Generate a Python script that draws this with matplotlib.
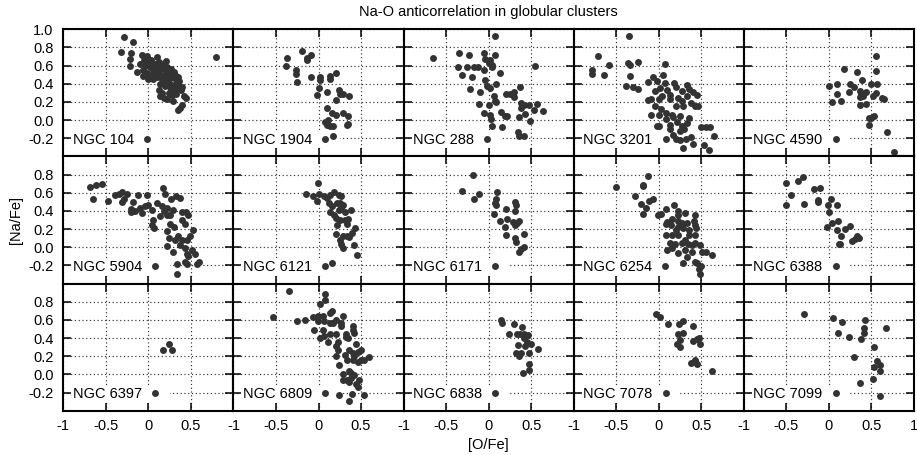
import numpy as np
import matplotlib
matplotlib.use('Agg')
import matplotlib.pyplot as plt

plt.rcParams['font.family'] = 'Liberation Sans'
plt.rcParams['font.size'] = 10.5

# [O/Fe], [Na/Fe] pairs, one list per cluster
ngc104 = [(-0.29, 0.92), (-0.18, 0.86), (-0.32, 0.75), (-0.21, 0.74), (-0.22, 0.67), (-0.22, 0.60), (0.80, 0.69),
          (-0.13, 0.53), (-0.10, 0.62), (-0.08, 0.72), (-0.05, 0.66), (-0.02, 0.71), (0.00, 0.63), (0.02, 0.58),
          (-0.06, 0.55), (-0.06, 0.49), (-0.02, 0.52), (0.03, 0.50), (0.05, 0.55), (0.07, 0.60), (0.10, 0.69),
          (0.12, 0.64), (0.08, 0.52), (0.10, 0.47), (0.12, 0.55), (0.14, 0.60), (0.15, 0.50), (0.16, 0.45),
          (0.18, 0.56), (0.20, 0.50), (0.21, 0.65), (0.22, 0.58), (0.24, 0.52), (0.25, 0.46), (0.18, 0.42),
          (0.20, 0.38), (0.14, 0.40), (0.13, 0.33), (0.16, 0.30), (0.14, 0.26), (0.22, 0.42), (0.26, 0.40),
          (0.28, 0.48), (0.30, 0.53), (0.31, 0.50), (0.27, 0.34), (0.30, 0.38), (0.32, 0.44), (0.33, 0.40),
          (0.35, 0.48), (0.36, 0.43), (0.37, 0.37), (0.38, 0.33), (0.40, 0.37), (0.42, 0.26), (0.44, 0.24),
          (0.39, 0.17), (0.35, 0.11), (0.37, 0.13), (0.22, 0.23), (0.25, 0.36), (0.29, 0.21), (0.18, 0.24),
          (0.28, 0.28), (0.33, 0.29), (0.24, 0.30), (0.05, 0.45), (0.00, 0.45), (-0.04, 0.60), (0.03, 0.66),
          (0.08, 0.62), (0.17, 0.62), (0.19, 0.47), (0.23, 0.55), (0.27, 0.56), (0.11, 0.58), (0.06, 0.48),
          (0.34, 0.34), (0.31, 0.31)]
ngc1904 = [(-0.37, 0.68), (-0.38, 0.60), (-0.19, 0.76), (-0.09, 0.72), (-0.13, 0.66), (-0.14, 0.68),
           (-0.26, 0.55), (-0.27, 0.51), (-0.25, 0.42), (-0.09, 0.47), (0.02, 0.47), (0.02, 0.44), (0.13, 0.49),
           (0.14, 0.45), (0.21, 0.52), (0.01, 0.35), (0.10, 0.31), (-0.02, 0.28), (0.24, 0.33), (0.25, 0.29),
           (0.29, 0.29), (0.36, 0.27), (0.21, 0.22), (0.10, 0.13), (0.16, 0.08), (0.21, 0.06), (0.29, 0.08),
           (0.35, 0.04), (0.33, -0.05), (0.35, -0.04), (0.08, -0.02), (0.10, -0.05), (0.13, -0.07),
           (0.17, -0.07), (0.11, 0.00), (0.17, -0.18)]
ngc288 = [(0.07, 0.93), (-0.66, 0.68), (-0.35, 0.74), (-0.23, 0.72), (-0.05, 0.74), (0.07, 0.72), (-0.36, 0.59),
          (-0.26, 0.59), (-0.31, 0.50), (-0.17, 0.58), (-0.12, 0.58), (-0.19, 0.47), (-0.05, 0.55), (-0.04, 0.67),
          (0.00, 0.63), (0.02, 0.66), (0.04, 0.58), (0.13, 0.52), (0.04, 0.61), (-0.04, 0.44), (-0.02, 0.38),
          (0.02, 0.35), (0.09, 0.40), (-0.22, 0.34), (-0.10, 0.31), (-0.11, 0.18), (0.00, 0.17), (0.06, 0.26),
          (0.07, 0.21), (0.09, 0.20), (-0.05, 0.08), (0.02, 0.06), (0.03, 0.01), (0.04, -0.07), (0.16, -0.08),
          (0.15, 0.09), (0.19, 0.04), (0.22, 0.04), (0.20, 0.29), (0.25, 0.29), (0.30, 0.31), (0.30, 0.25),
          (0.37, 0.37), (0.38, 0.19), (0.42, 0.17), (0.38, 0.13), (0.47, 0.17), (0.43, 0.07), (0.36, 0.03),
          (0.49, -0.01), (0.53, 0.11), (0.57, 0.18), (0.64, 0.10), (0.55, 0.60), (0.35, -0.13), (0.36, -0.18),
          (0.41, -0.18)]
ngc3201 = [(-0.35, 0.93), (-0.72, 0.71), (-0.58, 0.61), (-0.78, 0.55), (-0.78, 0.51), (-0.64, 0.50),
           (-0.36, 0.63), (-0.34, 0.61), (-0.24, 0.64), (-0.34, 0.49), (-0.38, 0.38), (-0.30, 0.37),
           (-0.24, 0.34), (0.07, 0.62), (-0.07, 0.47), (-0.13, 0.42), (-0.02, 0.43), (0.05, 0.50), (0.07, 0.41),
           (0.18, 0.41), (0.20, 0.37), (0.33, 0.39), (0.40, 0.31), (0.45, 0.28), (-0.04, 0.32), (0.01, 0.35),
           (0.10, 0.33), (0.04, 0.26), (0.00, 0.23), (-0.13, 0.22), (-0.09, 0.23), (0.13, 0.23), (0.23, 0.24),
           (0.27, 0.21), (0.33, 0.26), (0.38, 0.19), (0.46, 0.15), (0.42, 0.16), (0.20, 0.15), (0.29, 0.15),
           (-0.04, 0.15), (0.03, 0.12), (-0.09, 0.06), (0.00, 0.06), (0.09, 0.08), (0.15, 0.06), (0.17, 0.03),
           (0.21, -0.02), (0.09, 0.01), (-0.02, -0.06), (0.00, -0.07), (0.13, -0.05), (0.13, -0.10),
           (0.27, -0.07), (0.30, -0.10), (0.36, 0.02), (0.25, -0.12), (0.17, -0.16), (0.20, -0.21),
           (0.25, -0.22), (0.29, -0.31), (0.32, -0.21), (0.38, -0.19), (0.40, -0.26), (0.50, -0.08),
           (0.56, -0.08), (0.60, -0.08), (0.65, -0.18), (0.53, -0.27), (0.59, -0.33), (0.36, 0.34),
           (0.27, 0.32), (0.13, 0.28), (0.25, 0.04), (0.33, -0.03)]
ngc4590 = [(0.55, 0.71), (0.55, 0.54), (0.18, 0.56), (0.33, 0.53), (0.39, 0.44), (0.00, 0.38), (0.10, 0.40),
           (0.25, 0.40), (0.30, 0.37), (0.49, 0.40), (0.57, 0.40), (0.24, 0.31), (0.09, 0.29), (0.04, 0.20),
           (0.14, 0.21), (0.36, 0.32), (0.38, 0.29), (0.36, 0.25), (0.40, 0.26), (0.44, 0.31), (0.55, 0.30),
           (0.52, 0.26), (0.62, 0.24), (0.65, 0.23), (0.36, 0.17), (0.43, 0.18), (0.47, 0.02), (0.50, 0.02),
           (0.53, 0.04), (0.47, -0.05), (0.68, -0.13), (0.76, -0.35)]
ngc5904 = [(-0.69, 0.66), (-0.61, 0.68), (-0.54, 0.70), (-0.65, 0.53), (-0.47, 0.51), (-0.39, 0.57),
           (-0.35, 0.59), (-0.31, 0.61), (-0.25, 0.59), (-0.31, 0.50), (-0.29, 0.53), (-0.18, 0.50),
           (-0.20, 0.42), (-0.16, 0.40), (-0.20, 0.39), (-0.10, 0.43), (-0.12, 0.57), (-0.02, 0.58),
           (-0.07, 0.38), (0.00, 0.47), (0.04, 0.41), (0.06, 0.30), (0.04, 0.25), (0.07, 0.21), (-0.04, 0.45),
           (0.10, 0.49), (0.17, 0.65), (0.20, 0.59), (0.16, 0.45), (0.18, 0.40), (0.22, 0.43), (0.22, 0.36),
           (0.14, 0.34), (0.27, 0.53), (0.32, 0.56), (0.37, 0.54), (0.29, 0.41), (0.25, 0.36), (0.22, 0.18),
           (0.30, 0.22), (0.39, 0.39), (0.44, 0.39), (0.39, 0.30), (0.43, 0.26), (0.35, 0.12), (0.24, 0.10),
           (0.22, 0.01), (0.29, -0.05), (0.37, 0.03), (0.45, 0.08), (0.49, 0.12), (0.43, -0.01), (0.45, -0.07),
           (0.51, -0.03), (0.55, -0.07), (0.47, -0.10), (0.43, -0.16), (0.45, -0.19), (0.34, -0.18),
           (0.34, -0.29), (0.59, -0.16), (0.57, -0.18), (0.53, 0.19), (0.47, 0.36), (0.25, 0.26), (0.31, 0.08),
           (0.39, 0.08)]
ngc6121 = [(-0.01, 0.71), (-0.15, 0.59), (-0.07, 0.56), (-0.02, 0.51), (0.01, 0.59), (0.06, 0.56), (0.10, 0.54),
           (0.14, 0.58), (0.18, 0.61), (0.24, 0.58), (0.27, 0.56), (0.12, 0.49), (0.16, 0.45), (0.22, 0.49),
           (0.25, 0.49), (0.29, 0.47), (0.14, 0.39), (0.18, 0.36), (0.24, 0.41), (0.27, 0.43), (0.31, 0.39),
           (0.38, 0.41), (0.20, 0.32), (0.25, 0.30), (0.31, 0.30), (0.35, 0.31), (0.33, 0.26), (0.22, 0.25),
           (0.43, 0.21), (0.39, 0.16), (0.21, 0.15), (0.29, 0.12), (0.33, 0.12), (0.36, 0.11), (0.25, 0.08),
           (0.27, 0.04), (0.29, -0.01), (0.42, 0.03), (0.45, -0.08), (0.16, -0.17)]
ngc6171 = [(-0.18, 0.80), (-0.31, 0.62), (-0.17, 0.53), (-0.11, 0.59), (0.10, 0.61), (0.09, 0.53), (0.07, 0.49),
           (0.09, 0.46), (0.06, 0.37), (0.20, 0.42), (0.31, 0.50), (0.32, 0.47), (0.31, 0.40), (0.13, 0.29),
           (0.22, 0.31), (0.29, 0.28), (0.31, 0.25), (0.36, 0.29), (0.33, 0.27), (0.19, 0.22), (0.20, 0.14),
           (0.31, 0.10), (0.32, 0.06), (0.42, 0.15), (0.41, 0.00), (0.38, -0.02), (0.36, -0.05)]
ngc6254 = [(-0.50, 0.66), (-0.13, 0.78), (-0.19, 0.69), (-0.18, 0.67), (-0.28, 0.56), (-0.21, 0.48),
           (-0.11, 0.51), (-0.07, 0.53), (-0.15, 0.43), (-0.19, 0.37), (-0.01, 0.36), (0.03, 0.37), (0.08, 0.42),
           (0.18, 0.46), (0.22, 0.40), (0.23, 0.35), (0.31, 0.38), (0.42, 0.35), (0.41, 0.29), (0.10, 0.28),
           (0.08, 0.26), (0.14, 0.24), (0.23, 0.29), (0.27, 0.27), (0.33, 0.27), (0.42, 0.24), (0.44, 0.21),
           (0.23, 0.22), (0.29, 0.21), (0.20, 0.19), (0.16, 0.14), (0.08, 0.13), (0.23, 0.13), (0.36, 0.13),
           (0.43, 0.13), (0.31, 0.08), (0.27, 0.05), (0.19, 0.04), (0.34, 0.04), (0.39, 0.03), (0.43, 0.05),
           (0.49, 0.03), (0.10, -0.03), (0.22, -0.06), (0.31, -0.03), (0.39, -0.05), (0.51, -0.05),
           (0.56, -0.05), (0.63, -0.08), (0.33, -0.11), (0.29, -0.17), (0.42, -0.16), (0.45, -0.17),
           (0.50, -0.21), (0.47, -0.24), (0.49, -0.30), (0.16, -0.01), (0.13, 0.05), (0.36, 0.19), (0.16, 0.31)]
ngc6388 = [(-0.51, 0.71), (-0.36, 0.73), (-0.31, 0.77), (-0.45, 0.58), (-0.50, 0.46), (-0.29, 0.48),
           (-0.18, 0.64), (-0.11, 0.65), (-0.13, 0.52), (-0.13, 0.50), (-0.01, 0.46), (0.02, 0.53), (0.09, 0.46),
           (0.00, 0.39), (0.04, 0.27), (0.11, 0.29), (-0.02, 0.22), (0.09, 0.19), (0.19, 0.20), (0.25, 0.23),
           (0.14, 0.12), (0.33, 0.12), (0.35, 0.10), (0.31, 0.09), (0.27, 0.07), (0.12, 0.04), (0.13, 0.04)]
ngc6397 = [(0.17, 0.27), (0.24, 0.33), (0.28, 0.27)]
ngc6809 = [(-0.35, 0.92), (-0.54, 0.63), (-0.25, 0.59), (-0.16, 0.60), (-0.07, 0.63), (-0.01, 0.64), (0.02, 0.77),
           (0.08, 0.88), (0.08, 0.82), (0.05, 0.64), (-0.01, 0.59), (0.07, 0.59), (0.13, 0.68), (0.16, 0.70),
           (0.13, 0.57), (0.17, 0.57), (0.21, 0.60), (0.29, 0.64), (0.26, 0.57), (0.27, 0.53), (-0.05, 0.49),
           (0.05, 0.49), (0.13, 0.45), (0.02, 0.40), (0.11, 0.36), (0.07, 0.42), (0.21, 0.45), (0.32, 0.44),
           (0.35, 0.40), (0.32, 0.41), (0.40, 0.53), (0.41, 0.49), (0.42, 0.46), (0.23, 0.36), (0.21, 0.31),
           (0.23, 0.27), (0.21, 0.20), (0.31, 0.21), (0.33, 0.16), (0.36, 0.27), (0.40, 0.23), (0.42, 0.20),
           (0.44, 0.33), (0.46, 0.25), (0.50, 0.27), (0.46, 0.14), (0.50, 0.16), (0.54, 0.16), (0.59, 0.19),
           (0.41, 0.16), (0.24, 0.10), (0.36, 0.04), (0.38, 0.01), (0.42, -0.01), (0.29, 0.00), (0.29, -0.06),
           (0.33, -0.06), (0.38, -0.04), (0.36, -0.08), (0.48, -0.06), (0.44, -0.11), (0.46, -0.14),
           (0.24, -0.23), (0.39, -0.22), (0.54, -0.23), (0.36, -0.29)]
ngc6838 = [(0.14, 0.60), (0.16, 0.57), (0.30, 0.55), (0.39, 0.52), (0.24, 0.45), (0.33, 0.45), (0.37, 0.44),
           (0.42, 0.45), (0.46, 0.43), (0.41, 0.40), (0.45, 0.36), (0.50, 0.34), (0.35, 0.32), (0.43, 0.31),
           (0.58, 0.28), (0.47, 0.24), (0.32, 0.23), (0.36, 0.20), (0.38, 0.23), (0.48, 0.11), (0.47, 0.05),
           (0.40, 0.01)]
ngc7078 = [(-0.03, 0.66), (0.02, 0.63), (0.11, 0.56), (0.24, 0.55), (0.28, 0.59), (0.40, 0.53), (0.23, 0.45),
           (0.29, 0.46), (0.25, 0.38), (0.21, 0.34), (0.25, 0.30), (0.40, 0.37), (0.45, 0.39), (0.47, 0.40),
           (0.49, 0.34), (0.38, 0.13), (0.43, 0.16), (0.45, 0.11), (0.62, 0.04)]
ngc7099 = [(-0.29, 0.66), (0.05, 0.62), (0.15, 0.58), (0.42, 0.60), (0.67, 0.51), (0.41, 0.51), (0.41, 0.46),
           (0.11, 0.46), (0.24, 0.41), (0.38, 0.39), (0.53, 0.30), (0.29, 0.19), (0.57, 0.15), (0.60, 0.10),
           (0.53, 0.08), (0.60, 0.04), (0.52, -0.05), (0.37, -0.10), (0.60, -0.24)]

names = ['NGC 104', 'NGC 1904', 'NGC 288', 'NGC 3201', 'NGC 4590',
         'NGC 5904', 'NGC 6121', 'NGC 6171', 'NGC 6254', 'NGC 6388',
         'NGC 6397', 'NGC 6809', 'NGC 6838', 'NGC 7078', 'NGC 7099']
clusters = [ngc104, ngc1904, ngc288, ngc3201, ngc4590,
            ngc5904, ngc6121, ngc6171, ngc6254, ngc6388,
            ngc6397, ngc6809, ngc6838, ngc7078, ngc7099]

x_ticks = [-1, -0.5, 0, 0.5, 1]
x_labels = ['-1', '-0.5', '0', '0.5', '1']
y_ticks_top = [-0.2, 0.0, 0.2, 0.4, 0.6, 0.8, 1.0]
y_ticks = [-0.2, 0.0, 0.2, 0.4, 0.6, 0.8]

W, H = 917, 455
fig = plt.figure(figsize=(W / 100, H / 100), dpi=100)
axes = fig.subplots(3, 5)
fig.subplots_adjust(left=63.3 / W, right=914 / W, top=1 - 29.3 / H, bottom=1 - 410.7 / H,
                    wspace=0, hspace=0)

for i, ax in enumerate(axes.flat):
    row, col = divmod(i, 5)
    pts = np.array(clusters[i])
    ax.plot(pts[:, 0], pts[:, 1], 'o', ls='none', color='#333333', markersize=5.0,
            markeredgewidth=0, label=names[i], zorder=4)

    ax.set_xlim(-1, 1)
    ax.set_ylim(-0.4, 1.0)
    ax.set_xticks(x_ticks)
    yt = y_ticks_top if row == 0 else y_ticks
    ax.set_yticks(yt)

    if row == 2:
        labs = list(x_labels)
        if col < 4:
            labs[-1] = ''
        ax.set_xticklabels(labs)
    else:
        ax.tick_params(labelbottom=False)
    if col == 0:
        ax.set_yticklabels([f'{v:.1f}' for v in yt])
    else:
        ax.tick_params(labelleft=False)

    ax.tick_params(direction='in', top=True, right=True, length=6, width=1.1,
                   labelsize=10.5, color='black')
    ax.tick_params(axis='y', pad=7)
    ax.tick_params(axis='x', pad=6)
    for s in ax.spines.values():
        s.set_linewidth(1.5)
        s.set_color('black')

    # dotted grid like gnuplot, kept under the points and the key box
    ax.set_axisbelow(True)
    ax.grid(True, linestyle=(0, (1, 2.2)), linewidth=0.85, color='#333333')

    leg = ax.legend(loc='lower left', markerfirst=False, frameon=True, fancybox=False,
                    facecolor='white', edgecolor='none', framealpha=1,
                    borderaxespad=0.55, borderpad=0.1, handlelength=1.8,
                    handletextpad=0.0, fontsize=10.5, numpoints=1)
    leg.set_zorder(3)

fig.text(488 / W, 1 - 12 / H, 'Na-O anticorrelation in globular clusters',
         ha='center', va='center', fontsize=10.5)
fig.text(488 / W, 1 - 445 / H, '[O/Fe]', ha='center', va='center', fontsize=10.5)
fig.text(16 / W, 1 - 220 / H, '[Na/Fe]', ha='center', va='center', rotation=90, fontsize=10.5)

fig.savefig('out.png', dpi=100)
